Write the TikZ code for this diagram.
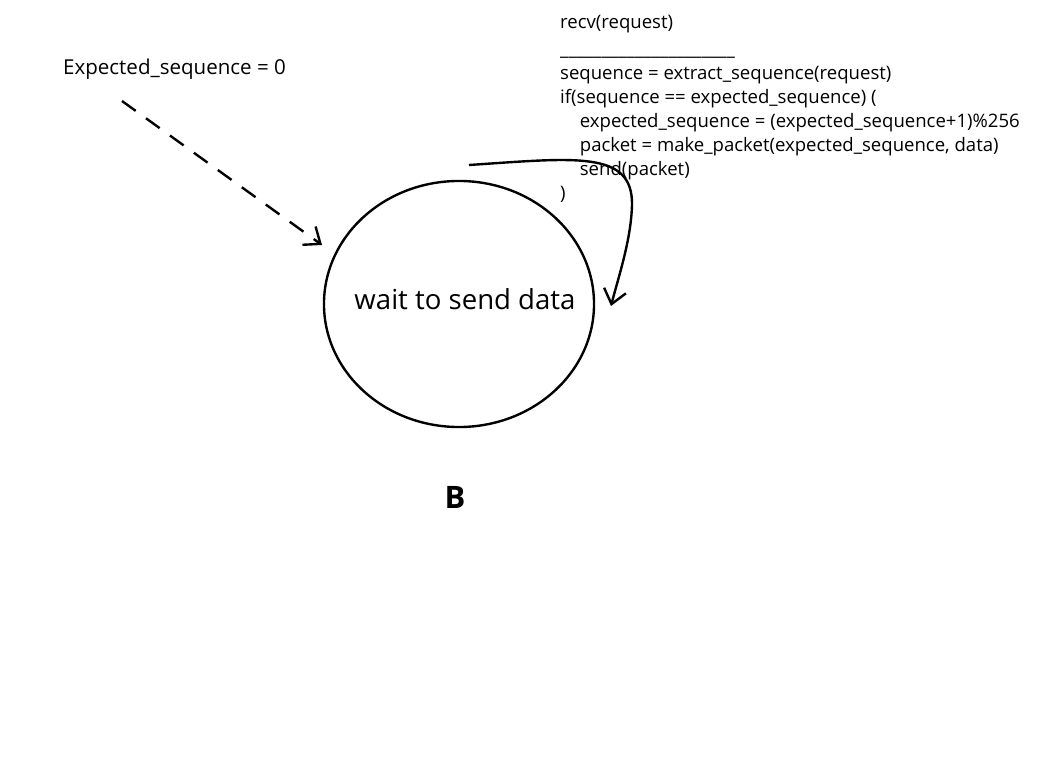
\documentclass[tikz,border=0pt]{standalone}
\usepackage{fontspec}
\setmainfont{Open Sans}
\usetikzlibrary{shapes.geometric,arrows.meta}
\newcommand{\ind}{\hspace*{14pt}}
\begin{document}
\begin{tikzpicture}
[x=0.025cm, y=-0.025cm, line width=1.7pt]
\tikzstyle{state}=[ellipse, draw, inner sep=0pt, minimum width=6.75cm, minimum height=6.15cm]
\tikzstyle{note}=[inner sep=0pt, anchor=west, font=\fontsize{14.6}{17}\selectfont]
\tikzstyle{action}=[inner sep=0pt, anchor=north west, align=left, font=\fontsize{13.2}{17.1}\selectfont]
\tikzstyle{barb}=[-{Straight Barb[length=10pt, width=16pt]}]
\useasboundingbox (0,0) rectangle (1042,768);

\node[state]	(wait)	at (459,304)	{};
\node[font=\fontsize{19.6}{22}\selectfont]	(waitlbl)	at (465,299)	{wait to send data};
\node[note]	(init)	at (62,69)	{Expected\_sequence = 0};
\node[action]	(act)	at (559,14)	{recv(request)\\[2pt]
\_\_\_\_\_\_\_\_\_\_\_\_\_\_\_\_\_\_\_\_\_\\
sequence = extract\_sequence(request)\\
if(sequence == expected\_sequence) (\\
\ind expected\_sequence = (expected\_sequence+1)\%256\\
\ind packet = make\_packet(expected\_sequence, data)\\
\ind send(packet)\\
)};
\node[font=\bfseries\fontsize{22}{26}\selectfont]	(B)	at (455,497)	{B};

\coordinate (initstart)	at (122,101);
\coordinate (initend)	at (322,245);
\coordinate (loopstart)	at (469,165);
\coordinate (loopend)	at (611,306);

\draw [barb, dash pattern=on 12pt off 9pt] (initstart) -- (initend);
\draw [barb] (loopstart) .. controls (575,158) and (633,150) .. (632,205) .. controls (631,240) and (619,275) .. (loopend);
\end{tikzpicture}
\end{document}
